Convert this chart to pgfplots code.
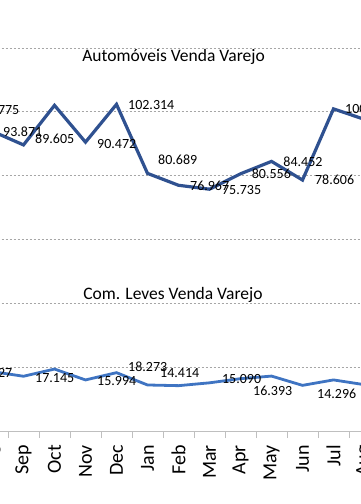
\documentclass[border=0pt]{standalone}
\usepackage{fontspec}
\setmainfont{Carlito}
\usepackage{pgfplots}
\pgfplotsset{compat=1.18}
\definecolor{darkline}{HTML}{2F5190}
\definecolor{lightline}{HTML}{3F74C2}
\definecolor{gridc}{HTML}{A6A6A6}
\definecolor{axc}{HTML}{BFBFBF}
\tikzset{lab/.style={anchor=west, inner sep=0pt, font=\fontsize{14}{16}\selectfont}}
\begin{document}
\begin{tikzpicture}
\begin{axis}[
  scale only axis, width=434pt, height=434.2pt,
  xmin=-1, xmax=13, ymin=0, ymax=136,
  axis x line*=bottom, axis y line*=left,
  y axis line style={draw=none},
  x axis line style={draw=axc, line width=0.8pt},
  ytick={20,40,60,80,100,120}, yticklabels={},
  ytick style={draw=none},
  ymajorgrids,
  grid style={draw=gridc, line width=0.6pt, dash pattern=on 2.5pt off 1.5pt},
  xtick={0,...,12},
  xticklabels={Aug,Sep,Oct,Nov,Dec,Jan,Feb,Mar,Apr,May,Jun,Jul,Aug},
  minor xtick={-0.5,0.5,...,12.5},
  major tick length=0pt, minor tick length=7pt, tick align=outside,
  minor tick style={draw=axc, line width=0.8pt},
  xticklabel style={rotate=90, anchor=east, inner sep=0pt, font=\fontsize{20}{24}\selectfont},
  xticklabel shift=14pt,
]
\addplot[darkline, line width=3.2pt] coordinates {
  (-1,101.775)(0,93.871)(1,89.605)(2,102.0)(3,90.472)(4,102.314)(5,80.689)
  (6,76.967)(7,75.735)(8,80.556)(9,84.452)(10,78.606)(11,100.9)(12,97.6)};
\addplot[lightline, line width=2.8pt] coordinates {
  (-1,18.0)(0,18.6)(1,17.145)(2,19.4)(3,15.994)(4,18.273)(5,14.414)
  (6,14.2)(7,15.090)(8,16.393)(9,17.2)(10,14.296)(11,16.0)(12,14.5)};
% data labels, top series
\node[lab] at (axis cs:-0.629,100.5) {101.775};
\node[lab] at (axis cs:0.339,93.8) {93.871};
\node[lab] at (axis cs:1.371,91.5) {89.605};
\node[lab] at (axis cs:3.371,90.0) {90.472};
\node[lab] at (axis cs:4.371,102.1) {102.314};
\node[lab] at (axis cs:5.339,85.0) {80.689};
\node[lab] at (axis cs:6.37,76.8) {76.967};
\node[lab] at (axis cs:7.40,75.5) {75.735};
\node[lab] at (axis cs:8.36,80.7) {80.556};
\node[lab] at (axis cs:9.38,84.4) {84.452};
\node[lab] at (axis cs:10.40,78.8) {78.606};
\node[lab] at (axis cs:11.37,100.9) {100.933};
% data labels, bottom series
\node[lab] at (axis cs:-0.629,18.2) {17.527};
\node[lab] at (axis cs:1.371,16.6) {17.145};
\node[lab] at (axis cs:3.371,15.7) {15.994};
\node[lab] at (axis cs:4.371,20.0) {18.273};
\node[lab] at (axis cs:5.403,18.2) {14.414};
\node[lab] at (axis cs:7.40,16.3) {15.090};
\node[lab] at (axis cs:8.403,12.5) {16.393};
\node[lab] at (axis cs:10.468,11.6) {14.296};
% titles
\node[anchor=base, inner sep=0pt, font=\fontsize{17.5}{20}\selectfont] at (axis cs:5.84,115.7) {Automóveis Venda Varejo};
\node[anchor=base, inner sep=0pt, font=\fontsize{17.5}{20}\selectfont] at (axis cs:5.82,41.3) {Com. Leves Venda Varejo};
\end{axis}
\pgfresetboundingbox
\path[use as bounding box] (38.5pt,-73pt) rectangle (398.5pt,431pt);
\end{tikzpicture}
\end{document}
